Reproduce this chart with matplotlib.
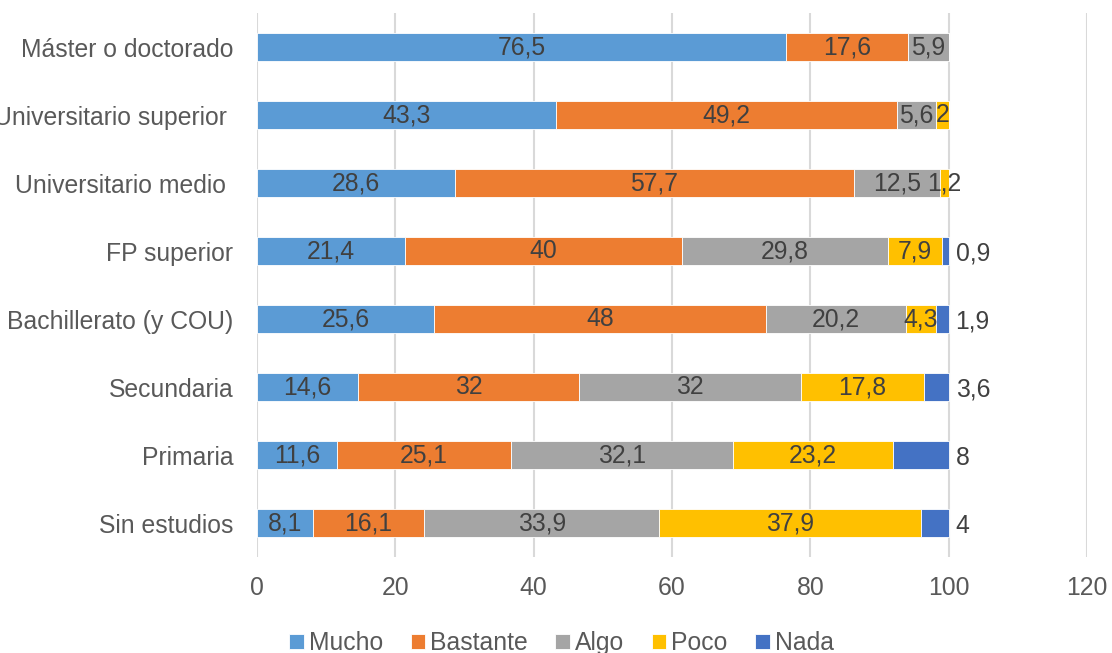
import numpy as np
import matplotlib
matplotlib.use("Agg")
import matplotlib.pyplot as plt

plt.rcParams['font.family'] = ['Liberation Sans', 'DejaVu Sans']

# categories, top to bottom
categorias = ["Máster o doctorado", "Universitario superior ", "Universitario medio ",
              "FP superior", "Bachillerato (y COU)", "Secundaria", "Primaria", "Sin estudios"]
series = ["Mucho", "Bastante", "Algo", "Poco", "Nada"]
mucho = [76.5, 43.3, 28.6, 21.4, 25.6, 14.6, 11.6, 8.1]
bastante = [17.6, 49.2, 57.7, 40, 48, 32, 25.1, 16.1]
algo = [5.9, 5.6, 12.5, 29.8, 20.2, 32, 32.1, 33.9]
poco = [0, 2, 1.2, 7.9, 4.3, 17.8, 23.2, 37.9]
nada = [0, 0, 0, 0.9, 1.9, 3.6, 8, 4]
colores = ["#5B9BD5", "#ED7D31", "#A5A5A5", "#FFC000", "#4472C4"]

FS = 17.8

def fmt(v):
    s = ("%.1f" % v).rstrip("0").rstrip(".")
    return s.replace(".", ",")

fig = plt.figure(figsize=(11.12, 6.53), dpi=100)
ax = fig.add_axes([0.2311, 0.147, 0.7464, 0.833])

y = np.arange(len(categorias))
left = np.zeros(len(categorias))
datos = [mucho, bastante, algo, poco, nada]
for i, (nombre, vals) in enumerate(zip(series, datos)):
    vals = np.array(vals, dtype=float)
    ax.barh(y, vals, left=left, height=0.41, color=colores[i],
            edgecolor="white", linewidth=0.6, label=nombre, zorder=3)
    for j, v in enumerate(vals):
        if v <= 0:
            continue
        if nombre == "Nada":
            ax.annotate(fmt(v), xy=(left[j] + v, y[j]), xytext=(5, -2),
                        textcoords="offset points", ha="left", va="center",
                        fontsize=FS, color="#404040")
        else:
            ax.text(left[j] + v / 2, y[j], fmt(v), ha="center", va="center",
                    fontsize=FS, color="#404040", zorder=4)
    left += vals

ax.set_xlim(0, 120)
ax.set_ylim(len(categorias) - 0.5, -0.5)
ax.set_xticks(np.arange(0, 121, 20))
ax.set_yticks(y)
ax.set_yticklabels(categorias)
ax.tick_params(axis="both", length=0, labelsize=FS, labelcolor="#595959")
ax.tick_params(axis="y", pad=17)
ax.tick_params(axis="x", pad=14)
ax.grid(axis="x", color="#D9D9D9", linewidth=1.5, zorder=0)
for s in ax.spines.values():
    s.set_visible(False)

leg = fig.legend(loc="center", bbox_to_anchor=(0.505, 0.015), ncol=5, frameon=False,
                 fontsize=FS, handlelength=0.6, handleheight=0.6,
                 handletextpad=0.2, columnspacing=1.1)
for t in leg.get_texts():
    t.set_color("#595959")

fig.savefig("out.png", dpi=100)
